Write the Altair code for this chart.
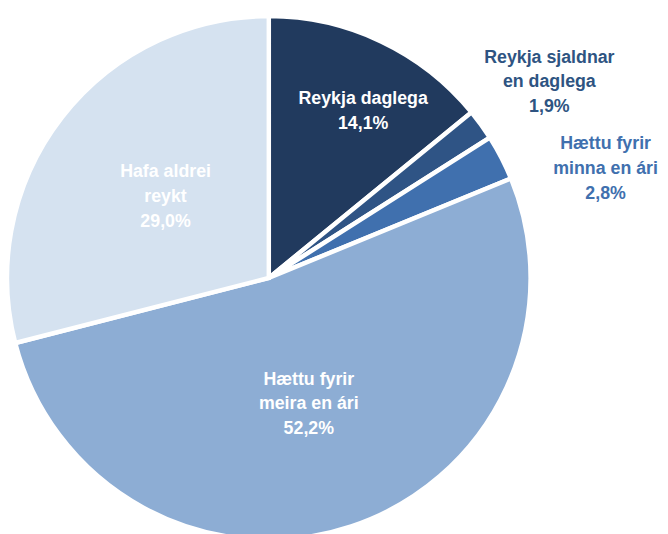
import altair as alt
import pandas as pd
import math

categories = ["Reykja daglega", "Reykja sjaldnar en daglega", "Hættu fyrir minna en ári",
              "Hættu fyrir meira en ári", "Hafa aldrei reykt"]
values = [14.1, 1.9, 2.8, 52.2, 29.0]
labels = ["Reykja daglega\n14,1%", "Reykja sjaldnar\nen daglega\n1,9%", "Hættu fyrir\nminna en ári\n2,8%",
          "Hættu fyrir\nmeira en ári\n52,2%", "Hafa aldrei\nreykt\n29,0%"]
slice_colors = ["#213A5E", "#2F5485", "#4070AE", "#8DADD4", "#D5E2F0"]
text_colors = ["#FFFFFF", "#2E5482", "#4070AE", "#FFFFFF", "#FFFFFF"]
label_radius = [204.6, 361, 366.7, 110.7, 149.6]
label_shift = [0.68, -0.64, 1.6, -0.86, 2.19]

df = pd.DataFrame({
    "cat": categories,
    "val": values,
    "label": labels,
    "order": list(range(len(values))),
    "tcol": text_colors,
    "lr": label_radius,
    "shift": label_shift,
})

cx, cy = 264, 270
R = 265
FONT = "Arial Narrow, Liberation Sans, sans-serif"

arcs = alt.Chart(df).mark_arc(radius=R, stroke="white", strokeWidth=4.5).encode(
    theta=alt.Theta("val:Q", stack=True),
    order=alt.Order("order:Q"),
    color=alt.Color("cat:N", scale=alt.Scale(domain=categories, range=slice_colors), legend=None),
    x=alt.value(cx), y=alt.value(cy),
)

texts = alt.Chart(df).transform_window(
    cum="sum(val)", sort=[alt.SortField("order")], frame=[None, 0]
).transform_calculate(
    mid="datum.cum - datum.val / 2 + datum.shift"
).mark_text(
    font=FONT, fontSize=18, fontWeight="bold", lineBreak="\n",
    lineHeight=25, align="center", baseline="middle",
).encode(
    theta=alt.Theta("mid:Q", stack=None, scale=alt.Scale(domain=[0, 100], range=[0, 2 * math.pi])),
    radius=alt.Radius("lr:Q", scale=None),
    text="label:N",
    color=alt.Color("tcol:N", scale=None),
    x=alt.value(cx), y=alt.value(cy),
)

chart = alt.layer(arcs, texts).resolve_scale(theta="independent").properties(
    width=660, height=526, padding=0, autosize=alt.AutoSizeParams(type="none")
).configure_view(stroke=None)

chart.save("out.html", embed_options={"renderer": "svg", "actions": False})
